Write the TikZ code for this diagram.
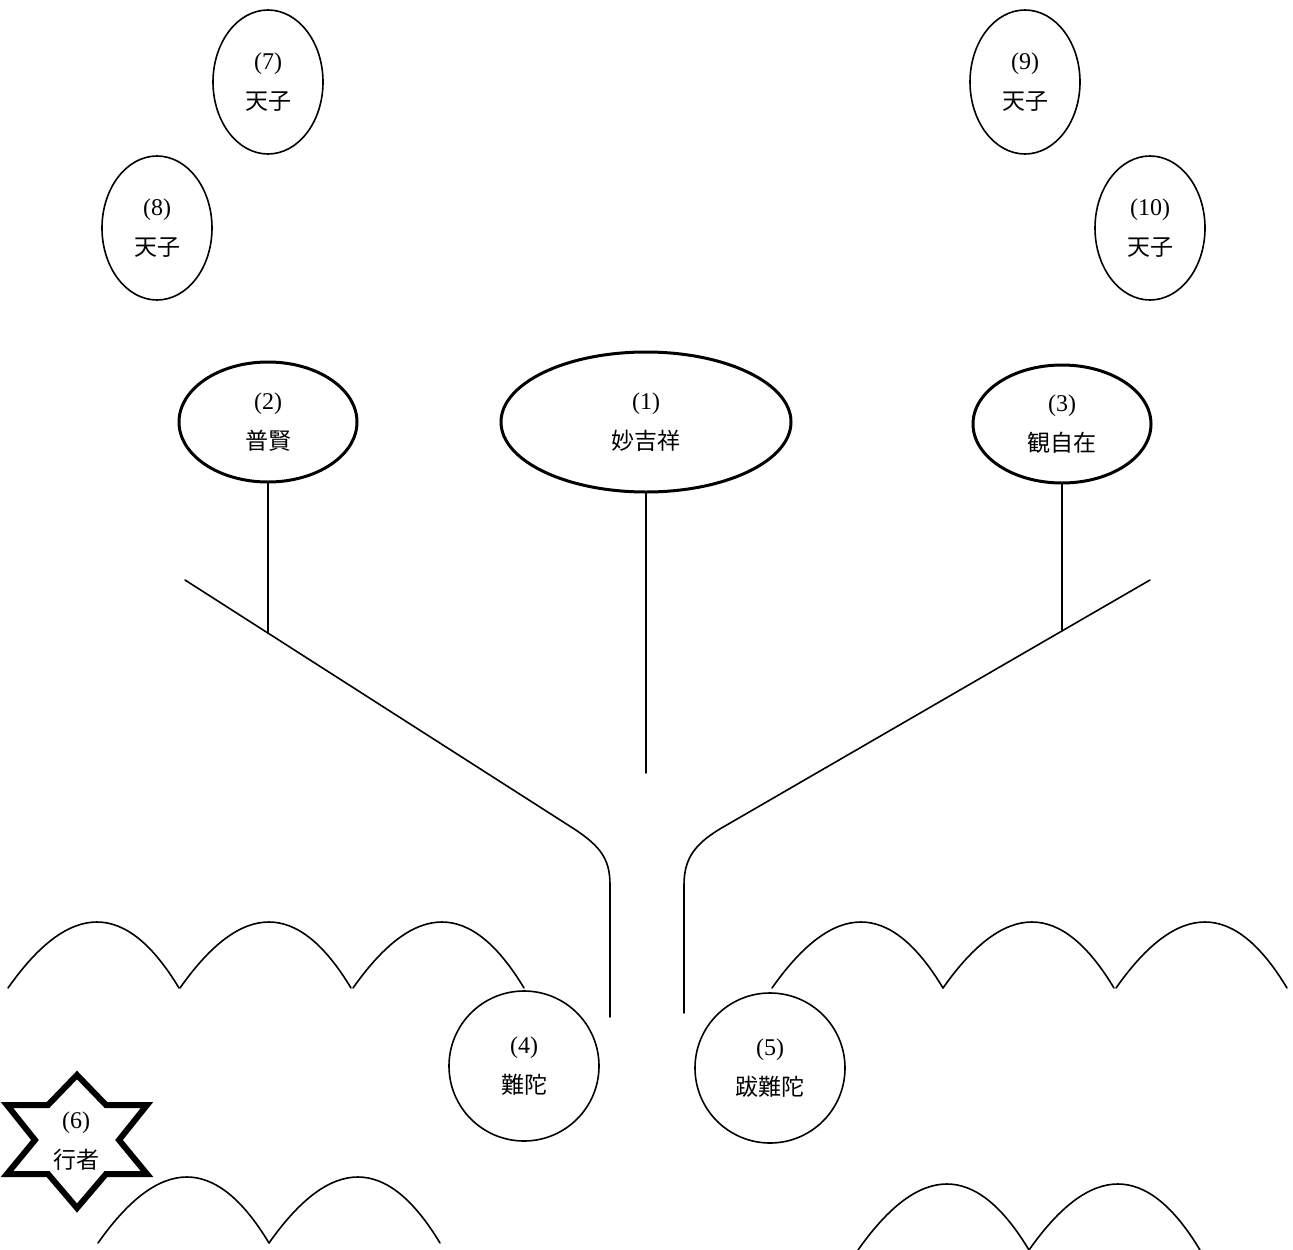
\documentclass[tikz,border=0pt]{standalone}
\usepackage{fontspec}
\newfontfamily\cjk{Noto Sans CJK JP}
\newfontfamily\numf{Liberation Serif}
\usetikzlibrary{shapes.geometric}
\newcommand\cj[1]{{\cjk\fontsize{23}{40}\selectfont #1}}
\tikzset{
  thinline/.style={line width=1.6pt, line cap=round},
  lbl/.style={align=center, inner sep=0pt, font=\numf\fontsize{24}{40}\selectfont},
  deva/.style={lbl, ellipse, draw, line width=1.6pt, minimum width=110pt, minimum height=144pt},
  bodh/.style={lbl, ellipse, draw, line width=3pt},
  disc/.style={lbl, circle, draw, fill=white, line width=1.6pt, minimum size=150pt},
}
\begin{document}
\begin{tikzpicture}[x=1pt,y=-1pt]
\useasboundingbox (0,0) rectangle (1293,1250);
% humps
\foreach \x in {8,180,353} {\draw[thinline] (\x,988) .. controls (\x+62,900) and (\x+118,900) .. (\x+171,988);}
\foreach \x in {772,943,1116} {\draw[thinline] (\x,988) .. controls (\x+62,900) and (\x+118,900) .. (\x+171,988);}
\foreach \x in {98,269} {\draw[thinline] (\x,1243) .. controls (\x+62,1155) and (\x+118,1155) .. (\x+171,1243);}
\foreach \x in {858,1029} {\draw[thinline] (\x,1250) .. controls (\x+62,1162) and (\x+118,1162) .. (\x+171,1250);}
% nodes
\node[bodh, minimum width=290pt, minimum height=140pt] (n1) at (646,422) {(1)\\\cj{妙吉祥}};
\node[bodh, minimum width=178pt, minimum height=120pt] (n2) at (268,422) {(2)\\\cj{普賢}};
\node[bodh, minimum width=178pt, minimum height=118pt] (n3) at (1062,424) {(3)\\\cj{観自在}};
\node[deva] (n7) at (268,82) {(7)\\\cj{天子}};
\node[deva] (n8) at (157,228) {(8)\\\cj{天子}};
\node[deva] (n9) at (1025,82) {(9)\\\cj{天子}};
\node[deva] (n10) at (1150,228) {(10)\\\cj{天子}};
\node[disc] (n4) at (524,1066) {(4)\\\cj{難陀}};
\node[disc] (n5) at (770,1068) {(5)\\\cj{跋難陀}};
% star
\draw[line width=6pt, line join=miter] (77,1075) -- (106,1105) -- (147,1105) -- (119,1140) -- (147,1174) -- (106,1174) -- (77,1208) -- (48,1174) -- (7,1174) -- (35,1140) -- (7,1105) -- (48,1105) -- cycle;
\node[lbl] (n6) at (76,1141) {(6)\\\cj{行者}};
% branches
\coordinate (L0) at (185,580);
\coordinate (L1) at (568,825);
\coordinate (L2) at (610,885);
\coordinate (L3) at (610,1017);
\coordinate (R0) at (1150,580);
\coordinate (R1) at (725,826);
\coordinate (R2) at (684,885);
\coordinate (R3) at (684,1013);
\coordinate (j2) at (268,633);
\coordinate (j3) at (1062,631);
\coordinate (c1) at (646,773);
\draw[thinline] (L0) -- (L1) .. controls (600,845) and (610,858) .. (L2) -- (L3);
\draw[thinline] (R0) -- (R1) .. controls (695,843) and (684,858) .. (R2) -- (R3);
\draw[thinline] (n2.south) -- (j2);
\draw[thinline] (n3.south) -- (j3);
\draw[thinline] (n1.south) -- (c1);
\end{tikzpicture}
\end{document}
